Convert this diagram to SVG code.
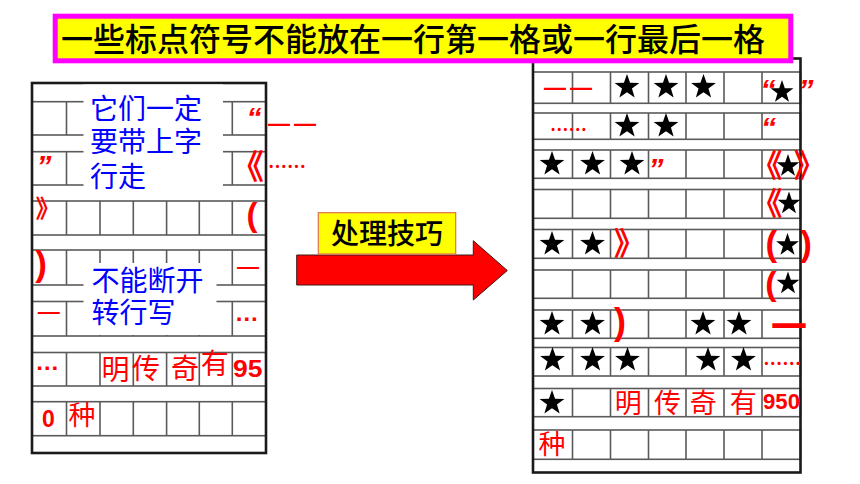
<svg xmlns="http://www.w3.org/2000/svg" width="860" height="484" viewBox="0 0 860 484">
<style>
.bg{fill:#fff}
.row{fill:none;stroke:#5a5a5a;stroke-width:1.6}
.vl{fill:none;stroke:#5a5a5a;stroke-width:1.6}
.border{fill:none;stroke:#1a1a1a;stroke-width:2.6}
.blue{font-family:"Noto Sans CJK SC","Noto Sans CJK TC",sans-serif;font-size:28px;fill:#0000ff}
.cjk{font-family:"Noto Sans CJK SC","Noto Sans CJK TC",sans-serif;fill:#ff0000}
.b{font-weight:bold}
.lat{font-family:"Liberation Sans",Arial,sans-serif;font-weight:bold;fill:#ff0000}
.dash{font-family:"Liberation Sans",Arial,sans-serif;font-weight:bold;fill:#ff0000;font-size:22px;letter-spacing:4px}
.q{font-family:"Liberation Sans",Arial,sans-serif;font-weight:bold;font-style:italic;fill:#ff0000;font-size:30px;text-anchor:middle}
.mid{text-anchor:middle}
.star{fill:#000}
</style>
<defs>
<path id="star" d="M0,-13 L3.06,-4.21 L12.36,-4.02 L4.95,1.61 L7.64,10.52 L0,5.2 L-7.64,10.52 L-4.95,1.61 L-12.36,-4.02 L-3.06,-4.21 Z"/>
</defs>
<rect width="860" height="484" class="bg"/>

<!-- Left grid -->
<g id="left-grid">
<rect x="32" y="83" width="234" height="370" fill="#fff"/>
<g class="row">
<rect x="32" y="101.7" width="234" height="33.3"/>
<rect x="32" y="151.7" width="234" height="33.3"/>
<rect x="32" y="201" width="234" height="34"/>
<rect x="32" y="250" width="234" height="35"/>
<rect x="32" y="301.5" width="234" height="34.5"/>
<rect x="32" y="352.5" width="234" height="33.5"/>
<rect x="32" y="401.7" width="234" height="34"/>
</g>
<path class="vl" d="M66.5,101.7V135M100,101.7V135M133.3,101.7V135M166.6,101.7V135M199.3,101.7V135M232.3,101.7V135
M66.5,151.7V185M100,151.7V185M133.3,151.7V185M166.6,151.7V185M199.3,151.7V185M232.3,151.7V185
M66.5,201V235M100,201V235M133.3,201V235M166.6,201V235M199.3,201V235M232.3,201V235
M66.5,250V285M100,250V285M133.3,250V285M166.6,250V285M199.3,250V285M232.3,250V285
M66.5,301.5V336M100,301.5V336M133.3,301.5V336M166.6,301.5V336M199.3,301.5V336M232.3,301.5V336
M66.5,352.5V386M100,352.5V386M133.3,352.5V386M166.6,352.5V386M199.3,352.5V386M232.3,352.5V386
M66.5,401.7V435.7M100,401.7V435.7M133.3,401.7V435.7M166.6,401.7V435.7M199.3,401.7V435.7M232.3,401.7V435.7"/>
<rect x="32" y="83" width="234" height="370" class="border"/>
</g>

<g id="note-1">
<rect x="83.5" y="84.5" width="139.5" height="102" fill="#fff"/>
<text class="blue" x="90" y="118.6">它们一定</text>
<text class="blue" x="90" y="152.3">要带上字</text>
<text class="blue" x="90" y="187">行走</text>
</g>
<g id="note-2">
<rect x="83.5" y="263" width="133" height="72" fill="#fff"/>
<text class="blue" x="91.5" y="290.6">不能断开</text>
<text class="blue" x="91.5" y="323">转行写</text>
</g>

<g id="left-marks">
<text class="q" x="254" y="128">“</text>
<text class="dash" x="268" y="130.5">——</text>
<text class="q" x="44" y="176">”</text>
<text class="cjk b" x="230" y="178.5" font-size="34">《</text>
<text class="cjk b" x="268" y="174.3" font-size="20" textLength="38" lengthAdjust="spacingAndGlyphs">……</text>
<text class="cjk b" x="35.5" y="217.5" font-size="25">》</text>
<text class="lat mid" x="252" y="226" font-size="33">(</text>
<text class="lat mid" x="41" y="275.6" font-size="35">)</text>
<text class="cjk mid" x="248" y="277.4" font-size="24">一</text>
<text class="cjk mid" x="48.7" y="322.4" font-size="24">一</text>
<text class="lat mid" x="246.7" y="320.8" font-size="24">…</text>
<text class="lat mid" x="47.3" y="369.8" font-size="24">…</text>
<text class="cjk mid" x="115.5" y="379.5" font-size="28">明</text>
<text class="cjk mid" x="146" y="378.5" font-size="28">传</text>
<text class="cjk mid" x="185" y="378.5" font-size="28">奇</text>
<text class="cjk mid" x="214.7" y="374.3" font-size="28">有</text>
<text class="lat" x="233" y="376.7" font-size="23" textLength="29.5" lengthAdjust="spacingAndGlyphs">95</text>
<text class="lat mid" x="48.3" y="426.7" font-size="23">0</text>
<text class="cjk mid" x="82" y="425" font-size="27">种</text>
</g>

<!-- Arrow -->
<g id="connectors">
<path d="M296.7,255 H473.3 V240.7 L507.3,270.5 L473.3,300 V285 H296.7 Z" fill="#ff0000" stroke="#3a1a1a" stroke-width="1"/>
</g>
<g id="label-skill">
<rect x="318.3" y="212.7" width="137.4" height="41.3" fill="#ffff00" stroke="#e0704a" stroke-width="1.2"/>
<text x="387" y="244" font-family="Noto Sans CJK SC, sans-serif" font-size="28" font-weight="500" fill="#000" text-anchor="middle">处理技巧</text>
</g>

<!-- Right grid -->
<g id="right-grid">
<rect x="533" y="58.5" width="267.5" height="414" fill="#fff"/>
<g class="row">
<rect x="533" y="72" width="267.5" height="31.3"/>
<rect x="533" y="113" width="267.5" height="26.3"/>
<rect x="533" y="150" width="267.5" height="28.3"/>
<rect x="533" y="189.5" width="267.5" height="28.8"/>
<rect x="533" y="229.5" width="267.5" height="28.8"/>
<rect x="533" y="270" width="267.5" height="28.3"/>
<rect x="533" y="310" width="267.5" height="28.3"/>
<rect x="533" y="347.5" width="267.5" height="28.5"/>
<rect x="533" y="388.5" width="267.5" height="28.2"/>
<rect x="533" y="430" width="267.5" height="29.3"/>
</g>
<path class="vl" d="M572.5,72V103.3M610.5,72V103.3M648.5,72V103.3M686,72V103.3M724,72V103.3M762,72V103.3
M572.5,113V139.3M610.5,113V139.3M648.5,113V139.3M686,113V139.3M724,113V139.3M762,113V139.3
M572.5,150V178.3M610.5,150V178.3M648.5,150V178.3M686,150V178.3M724,150V178.3M762,150V178.3
M572.5,189.5V218.3M610.5,189.5V218.3M648.5,189.5V218.3M686,189.5V218.3M724,189.5V218.3M762,189.5V218.3
M572.5,229.5V258.3M610.5,229.5V258.3M648.5,229.5V258.3M686,229.5V258.3M724,229.5V258.3M762,229.5V258.3
M572.5,270V298.3M610.5,270V298.3M648.5,270V298.3M686,270V298.3M724,270V298.3M762,270V298.3
M572.5,310V338.3M610.5,310V338.3M648.5,310V338.3M686,310V338.3M724,310V338.3M762,310V338.3
M572.5,347.5V376M610.5,347.5V376M648.5,347.5V376M686,347.5V376M724,347.5V376M762,347.5V376
M572.5,388.5V416.7M610.5,388.5V416.7M648.5,388.5V416.7M686,388.5V416.7M724,388.5V416.7M762,388.5V416.7
M572.5,430V459.3M610.5,430V459.3M648.5,430V459.3M686,430V459.3M724,430V459.3M762,430V459.3"/>
<rect x="533" y="58.5" width="267.5" height="414" class="border"/>
</g>

<g id="right-stars" class="star">
<use href="#star" x="627" y="87"/>
<use href="#star" x="666" y="87"/>
<use href="#star" x="703.5" y="87"/>
<use href="#star" transform="translate(782,92) scale(0.92)"/>
<use href="#star" x="627" y="126"/>
<use href="#star" x="666" y="126"/>
<use href="#star" x="552" y="164"/>
<use href="#star" x="592.5" y="164"/>
<use href="#star" x="632" y="164"/>
<use href="#star" transform="translate(788,166) scale(0.92)"/>
<use href="#star" transform="translate(789,203.5) scale(0.92)"/>
<use href="#star" x="552" y="244"/>
<use href="#star" x="592.5" y="244"/>
<use href="#star" transform="translate(787.5,245) scale(0.92)"/>
<use href="#star" transform="translate(788,283.5) scale(0.92)"/>
<use href="#star" x="552" y="324"/>
<use href="#star" x="592.5" y="324"/>
<use href="#star" x="703" y="324"/>
<use href="#star" x="739" y="324"/>
<use href="#star" x="552.5" y="360"/>
<use href="#star" x="592.5" y="360"/>
<use href="#star" x="627.5" y="360"/>
<use href="#star" x="708" y="360"/>
<use href="#star" x="743.5" y="360"/>
<use href="#star" x="552" y="403"/>
</g>

<g id="right-marks">
<text class="dash" x="544" y="95">——</text>
<text class="q" x="768" y="99.5">“</text>
<text class="q" x="806" y="99.5">”</text>
<text class="cjk b" x="550" y="136.6" font-size="20" textLength="37" lengthAdjust="spacingAndGlyphs">……</text>
<text class="q" x="768.5" y="138">“</text>
<text class="q" x="656" y="178.6" font-size="26">”</text>
<text class="cjk b" x="750.6" y="176.8" font-size="32">《</text>
<text class="cjk b" x="793.8" y="176.8" font-size="32">》</text>
<text class="cjk b" x="750.6" y="214.8" font-size="32">《</text>
<text class="cjk b" x="613.8" y="254.8" font-size="32">》</text>
<text class="lat mid" x="771.3" y="256" font-size="35">(</text>
<text class="lat mid" x="806" y="256" font-size="35">)</text>
<text class="lat mid" x="771" y="294.5" font-size="34">(</text>
<text class="lat mid" x="620" y="334" font-size="36">)</text>
<text class="cjk mid b" x="789" y="339.7" font-size="36">一</text>
<text class="cjk b" x="763.3" y="370.8" font-size="20" textLength="38" lengthAdjust="spacingAndGlyphs">……</text>
<text class="cjk mid" x="628.3" y="413" font-size="27">明</text>
<text class="cjk mid" x="667.5" y="413" font-size="27">传</text>
<text class="cjk mid" x="703.3" y="413" font-size="27">奇</text>
<text class="cjk mid" x="743.3" y="413" font-size="27">有</text>
<text class="lat" x="763" y="409.3" font-size="22" textLength="37" lengthAdjust="spacingAndGlyphs">950</text>
<text class="cjk mid" x="552" y="453.6" font-size="27">种</text>
</g>

<!-- Title -->
<g id="title">
<rect x="55.2" y="16.2" width="735.6" height="44.6" fill="#ffff00" stroke="#ff00ff" stroke-width="5"/>
<text x="413" y="51" font-family="Noto Sans CJK SC, sans-serif" font-size="32" font-weight="500" fill="#000" text-anchor="middle">一些标点符号不能放在一行第一格或一行最后一格</text>
</g>
</svg>
